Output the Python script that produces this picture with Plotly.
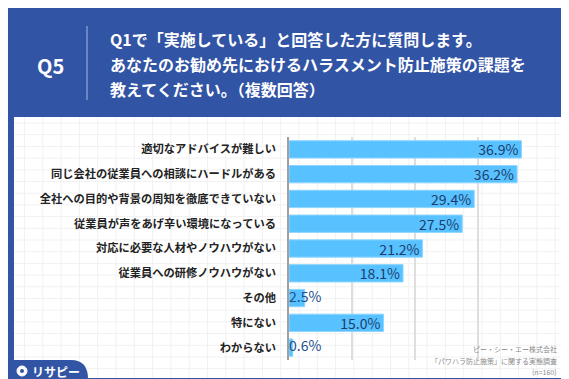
import plotly.graph_objects as go

categories = [
    "適切なアドバイスが難しい",
    "同じ会社の従業員への相談にハードルがある",
    "全社への目的や背景の周知を徹底できていない",
    "従業員が声をあげ辛い環境になっている",
    "対応に必要な人材やノウハウがない",
    "従業員への研修ノウハウがない",
    "その他",
    "特にない",
    "わからない",
]
values = [36.9, 36.2, 29.4, 27.5, 21.2, 18.1, 2.5, 15.0, 0.6]
x_ticks = [0, 10, 20, 30, 40]

title_lines = [
    "Q1で「実施している」と回答した方に質問します。",
    "あなたのお勧め先におけるハラスメント防止施策の課題を",
    "教えてください。（複数回答）",
]
source_lines = ["ピー・シー・エー株式会社", "「パワハラ防止施策」に関する実態調査", "(n=160)"]

W, H = 569, 379
BLUE = "#3254a5"
FONT = "Noto Sans CJK JP"


def px(x):
    return x / W


def py(y):
    return 1 - y / H


shapes = []
# white panel
shapes.append(dict(type="rect", xref="paper", yref="paper", x0=px(6), x1=px(560),
                   y0=py(370), y1=py(109), fillcolor="white", line=dict(width=0), layer="below"))
# faint graph-paper grid
x = 6 + 10.5
while x < 560:
    shapes.append(dict(type="line", xref="paper", yref="paper", x0=px(x), x1=px(x),
                       y0=py(370), y1=py(109), line=dict(color="#f1f1f1", width=1), layer="below"))
    x += 18.3
y = 109 + 6
while y < 370:
    shapes.append(dict(type="line", xref="paper", yref="paper", x0=px(6), x1=px(560),
                       y0=py(y), y1=py(y), line=dict(color="#f1f1f1", width=1), layer="below"))
    y += 11.7
# logo blue tab
path = "M {a},{b} L {c},{b} Q {d},{b} {d},{e} L {a},{e} Z".format(
    a=px(0), b=py(352), c=px(63), d=px(80), e=py(371))
shapes.append(dict(type="path", xref="paper", yref="paper", path=path,
                   fillcolor=BLUE, line=dict(width=0), layer="below"))
# header divider
shapes.append(dict(type="line", xref="paper", yref="paper", x0=px(79), x1=px(79),
                   y0=py(92), y1=py(18), line=dict(color="#7f97d0", width=1.5)))
# logo pin
shapes.append(dict(type="circle", xref="paper", yref="paper", x0=px(9), x1=px(19),
                   y0=py(368), y1=py(358), fillcolor="white", line=dict(color="white", width=1)))
shapes.append(dict(type="circle", xref="paper", yref="paper", x0=px(12), x1=px(16),
                   y0=py(365), y1=py(361), fillcolor=BLUE, line=dict(width=0)))

annotations = []
annotations.append(dict(text="<b>Q5</b>", x=px(42.5), y=py(57), xref="paper", yref="paper",
                        xanchor="center", yanchor="middle", showarrow=False,
                        font=dict(family=FONT, size=20, color="white")))
for i, line in enumerate(title_lines):
    annotations.append(dict(text="<b>" + line + "</b>", x=px(100), y=py(31 + 25 * i),
                            xref="paper", yref="paper", xanchor="left", yanchor="middle",
                            showarrow=False, font=dict(family=FONT, size=16, color="white")))
for i, line in enumerate(source_lines):
    annotations.append(dict(text=line, x=px(551), y=py(341 + 11.5 * i), xref="paper", yref="paper",
                            xanchor="right", yanchor="middle", showarrow=False,
                            font=dict(family=FONT, size=7, color="#8a8a8a")))
annotations.append(dict(text="<b>リサピー</b>", x=px(22), y=py(363), xref="paper", yref="paper",
                        xanchor="left", yanchor="middle", showarrow=False,
                        font=dict(family=FONT, size=12, color="white")))

inside_text = ["%.1f%%" % v if v > 5 else "" for v in values]
small_text = ["%.1f%%" % v if v <= 5 else "" for v in values]

fig = go.Figure()
fig.add_trace(go.Bar(
    x=values, y=categories, orientation="h",
    marker=dict(color="#57c2ff", line=dict(color="#8fd5ff", width=1)),
    text=inside_text, textposition="inside", insidetextanchor="end",
    insidetextfont=dict(family=FONT, size=14, color="#1d3c6e"),
    cliponaxis=False, hoverinfo="skip",
))
fig.add_trace(go.Scatter(
    x=[0] * len(values), y=categories, mode="text", text=small_text,
    textposition="middle right",
    textfont=dict(family=FONT, size=14, color="#24508f"),
    cliponaxis=False, hoverinfo="skip",
))

fig.update_layout(
    width=W, height=H, margin=dict(l=0, r=0, t=0, b=0),
    paper_bgcolor=BLUE, plot_bgcolor="rgba(0,0,0,0)",
    bargap=0.3, showlegend=False,
    shapes=shapes, annotations=annotations,
    uniformtext=dict(minsize=14, mode="show"),
    xaxis=dict(domain=[px(281), px(533)], range=[0, 40], tickvals=x_ticks,
               showticklabels=False, showgrid=True, gridcolor="#dedede", gridwidth=1.5,
               zeroline=False, fixedrange=True),
    yaxis=dict(domain=[py(352), py(129)], autorange="reversed",
               showline=True, linecolor="#a0a0a0", linewidth=1.5,
               ticklabelstandoff=9,
               tickfont=dict(family=FONT, size=11.25, color="#222222", weight="bold"),
               fixedrange=True),
)

fig.write_html("out.html")
